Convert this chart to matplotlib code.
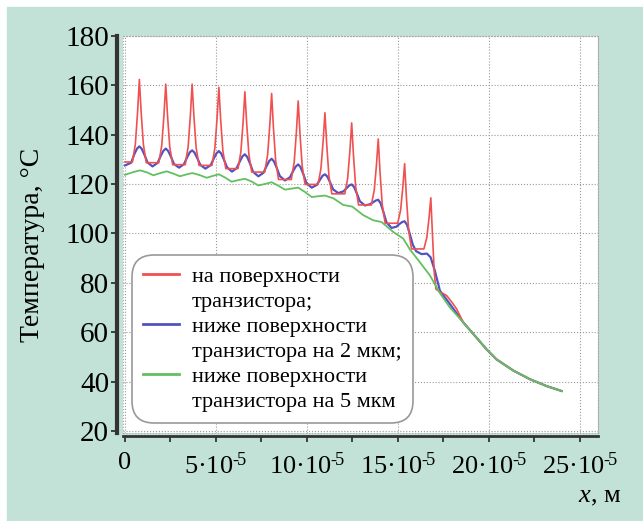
import matplotlib
matplotlib.use('Agg')
import matplotlib.pyplot as plt
from matplotlib.patches import Rectangle
from matplotlib.lines import Line2D

plt.rcParams['font.family'] = ['Liberation Serif', 'DejaVu Serif']
plt.rcParams['mathtext.fontset'] = 'custom'
plt.rcParams['mathtext.rm'] = 'Liberation Serif'
plt.rcParams['mathtext.it'] = 'Liberation Serif:italic'

# x in units of 1e-5 m, temperature in deg C
red_x = [0.0, 0.41, 0.57, 0.69, 0.79, 0.89, 1.01, 1.17,
         1.86, 2.02, 2.14, 2.24, 2.34, 2.46, 2.62,
         3.31, 3.47, 3.59, 3.69, 3.79, 3.91, 4.07,
         4.78, 4.94, 5.06, 5.16, 5.26, 5.38, 5.54,
         6.21, 6.37, 6.49, 6.59, 6.69, 6.81, 6.97,
         7.68, 7.84, 7.96, 8.06, 8.16, 8.28, 8.44,
         9.14, 9.30, 9.42, 9.52, 9.62, 9.74, 9.90,
         10.61, 10.77, 10.89, 10.99, 11.09, 11.21, 11.37,
         12.08, 12.24, 12.36, 12.46, 12.56, 12.68, 12.84,
         13.54, 13.70, 13.82, 13.92, 14.02, 14.14, 14.30,
         14.99, 15.15, 15.27, 15.37, 15.47, 15.59, 15.75,
         16.43, 16.59, 16.71, 16.81, 16.91, 17.00, 17.09, 17.30, 17.50, 17.68, 17.95, 18.23]
red_y = [128.9, 128.9, 136.2, 148.9, 162.3, 148.8, 136.0, 128.6,
         128.6, 135.6, 147.7, 160.4, 147.4, 135.0, 127.8,
         127.8, 135.0, 147.4, 160.4, 147.2, 134.7, 127.5,
         127.5, 134.5, 146.5, 159.1, 145.9, 133.4, 126.2,
         126.2, 133.0, 144.9, 157.3, 144.3, 131.9, 124.8,
         124.8, 131.8, 143.9, 156.6, 142.7, 129.5, 121.8,
         121.8, 128.8, 140.9, 153.6, 140.1, 127.2, 119.8,
         119.8, 126.2, 137.2, 148.8, 135.7, 123.2, 116.0,
         116.0, 122.3, 133.2, 144.7, 131.4, 118.8, 111.5,
         111.5, 117.4, 127.5, 138.2, 124.6, 111.6, 104.1,
         104.1, 109.4, 118.6, 128.2, 114.4, 101.3, 93.7,
         93.7, 98.3, 106.1, 114.4, 98.0, 84.0, 77.5, 76.2, 75.6, 74.8, 72.3, 69.4]

blue_x = [0.0, 0.34, 0.51, 0.66, 0.79, 0.92, 1.07, 1.24, 1.51,
          1.79, 1.96, 2.11, 2.24, 2.37, 2.52, 2.69, 2.97,
          3.24, 3.41, 3.56, 3.69, 3.82, 3.97, 4.14, 4.42,
          4.71, 4.88, 5.03, 5.16, 5.29, 5.44, 5.61, 5.88,
          6.14, 6.31, 6.46, 6.59, 6.72, 6.87, 7.04, 7.33,
          7.61, 7.78, 7.93, 8.06, 8.19, 8.34, 8.51, 8.79,
          9.07, 9.24, 9.39, 9.52, 9.65, 9.80, 9.97, 10.26,
          10.54, 10.71, 10.86, 10.99, 11.12, 11.27, 11.44, 11.72,
          12.01, 12.18, 12.33, 12.46, 12.59, 12.74, 12.91, 13.19,
          13.47, 13.64, 13.79, 13.92, 14.05, 14.20, 14.37, 14.65,
          14.92, 15.09, 15.24, 15.37, 15.50, 15.65, 15.82, 16.00,
          16.30, 16.60, 16.80, 17.03, 17.31, 17.86]
blue_y = [127.5, 128.6, 132.0, 134.3, 135.2, 134.2, 131.8, 128.7, 127.1,
          128.5, 131.3, 133.4, 134.3, 133.4, 131.1, 128.1, 126.6,
          128.0, 130.7, 132.8, 133.6, 132.7, 130.5, 127.7, 126.2,
          127.6, 130.3, 132.4, 133.3, 132.3, 129.8, 126.7, 125.0,
          126.4, 129.1, 131.2, 132.0, 130.9, 128.3, 124.9, 123.1,
          124.5, 127.2, 129.3, 130.2, 129.1, 126.5, 123.2, 121.4,
          122.7, 125.2, 127.1, 127.9, 126.8, 124.0, 120.4, 118.5,
          119.6, 121.6, 123.3, 123.9, 123.0, 120.7, 117.8, 116.3,
          117.0, 118.3, 119.4, 119.8, 118.8, 116.2, 113.0, 111.3,
          111.8, 112.6, 113.3, 113.6, 112.2, 108.8, 104.5, 102.2,
          102.7, 103.8, 104.6, 104.9, 103.5, 99.9, 95.4, 92.8,
          91.6, 91.8, 90.3, 84.9, 76.8, 71.4]

green_x = [0.0, 0.45, 0.82, 1.2, 1.56, 1.9, 2.29, 2.65, 3.02, 3.35, 3.70, 4.1, 4.49,
           4.85, 5.16, 5.5, 5.86, 6.2, 6.59, 6.95, 7.33, 7.7, 8.06, 8.4, 8.79, 9.15,
           9.52, 9.9, 10.26, 10.6, 10.99, 11.45, 12.0, 12.5, 13.09, 13.64, 14.1, 14.74,
           15.29, 15.66, 16.21, 16.76, 17.31, 17.86]
green_y = [123.7, 124.8, 125.5, 124.7, 123.5, 124.3, 125.1, 124.2, 123.1, 123.8, 124.4, 123.6, 122.5,
           123.3, 123.9, 122.6, 120.9, 121.5, 122.1, 121.0, 119.4, 120.0, 120.7, 119.4, 117.7, 118.1,
           118.5, 116.7, 114.7, 115.0, 115.3, 114.2, 111.5, 110.8, 107.4, 105.3, 104.6, 100.6,
           97.9, 93.5, 88.3, 83.0, 75.8, 70.0]

# common tail where the three curves merge
tail_x = [18.59, 19.32, 19.87, 20.42, 21.34, 22.25, 23.17, 24.0]
tail_y = [64.0, 57.8, 53.1, 49.0, 44.5, 41.0, 38.2, 36.2]

x_ticks = [0, 5, 10, 15, 20, 25]
x_ticklabels = ['0', '5·10$^{\u2010\\!5}$', '10·10$^{\u2010\\!5}$', '15·10$^{\u2010\\!5}$',
                '20·10$^{\u2010\\!5}$', '25·10$^{\u2010\\!5}$']
y_ticks = [20, 40, 60, 80, 100, 120, 140, 160, 180]

labels = ['на поверхности', 'транзистора;',
          'ниже поверхности', 'транзистора на 2 мкм;',
          'ниже поверхности', 'транзистора на 5 мкм']

red, blue, green = '#f05050', '#5252c0', '#62c060'

fig = plt.figure(figsize=(6.43, 5.21), dpi=100)
fig.patches.append(Rectangle((7 / 643, 0), 1, 1 - 7 / 521, transform=fig.transFigure,
                             color='#c2e2d7', zorder=-10))
ax = fig.add_axes([123 / 643, 1 - 433 / 521, 475 / 643, 397.3 / 521])

ax.plot(red_x + tail_x, red_y + tail_y, color=red, lw=1.2, zorder=3)
ax.plot(blue_x + tail_x, blue_y + tail_y, color=blue, lw=1.6, zorder=2)
ax.plot(green_x + tail_x, green_y + tail_y, color=green, lw=1.3, zorder=4)

ax.set_xlim(-0.11, 26.0)
ax.set_ylim(19.2, 180)

ax.set_yticks(y_ticks)
ax.set_xticks(x_ticks)
ax.set_xticklabels(x_ticklabels)
ax.set_xticks([2.5, 7.5, 12.5, 17.5, 22.5], minor=True)
ax.tick_params(axis='y', labelsize=21, length=4, width=1.3, direction='out', pad=2, color='#333')
ax.tick_params(axis='x', which='both', labelsize=19, length=4, width=1.3, direction='out', pad=8, color='#333')

ax.grid(True, which='major', ls=':', color='#999', lw=0.8)
for s in ['top', 'right']:
    ax.spines[s].set_linestyle(':')
    ax.spines[s].set_color('#aaa')
    ax.spines[s].set_linewidth(0.8)
ax.spines['left'].set_position(('outward', 4))
ax.spines['left'].set_linewidth(3)
ax.spines['left'].set_color('#333')
ax.spines['bottom'].set_position(('outward', 2))
ax.spines['bottom'].set_linewidth(2)
ax.spines['bottom'].set_color('#333')
ax.add_patch(Rectangle((0, 0), 1, 1, transform=ax.transAxes, fill=False,
                       ls=':', ec='#aaa', lw=0.8, clip_on=False, zorder=1))

handles = [Line2D([], [], color=red, lw=2), Line2D([], [], color='none'),
           Line2D([], [], color=blue, lw=2), Line2D([], [], color='none'),
           Line2D([], [], color=green, lw=2), Line2D([], [], color='none')]
leg = ax.legend(handles, labels, loc='upper left', bbox_to_anchor=(132 / 643, 1 - 255 / 521),
                bbox_transform=fig.transFigure, fontsize=16, frameon=True, fancybox=True,
                labelspacing=0.2, handlelength=1.6, handletextpad=0.6, borderpad=0.5,
                borderaxespad=0)
frame = leg.get_frame()
frame.set_boxstyle('round,pad=0,rounding_size=1.0')
frame.set_edgecolor('#999')
frame.set_linewidth(1.2)
frame.set_alpha(1)
leg.set_zorder(5)

fig.text(600 / 643, 1 - 497 / 521, '$x$, м', ha='center', va='center', fontsize=19)
fig.text(33 / 643, 1 - 245 / 521, 'Температура, °C', rotation=90,
         ha='center', va='center', fontsize=20)

fig.savefig('out.png', dpi=100)
